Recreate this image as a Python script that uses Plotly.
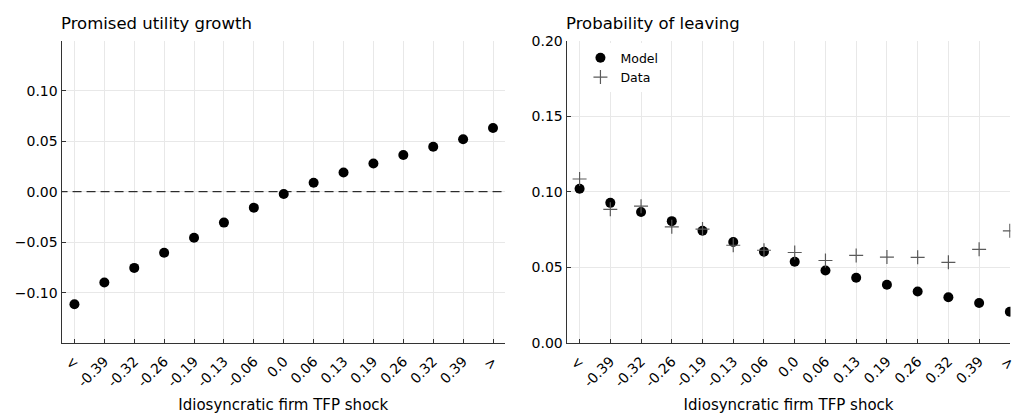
import plotly.graph_objects as go

categories = ["<", "-0.39", "-0.32", "-0.26", "-0.19", "-0.13", "-0.06", "0.0",
              "0.06", "0.13", "0.19", "0.26", "0.32", "0.39", ">"]
utility_growth = [-0.1115, -0.0899, -0.0755, -0.0605, -0.0456, -0.0306, -0.0158, -0.0022,
                  0.0089, 0.0191, 0.0280, 0.0363, 0.0446, 0.0519, 0.0631]
leave_model = [0.1020, 0.0926, 0.0866, 0.0805, 0.0741, 0.0667, 0.0602, 0.0536,
               0.0478, 0.0430, 0.0383, 0.0339, 0.0301, 0.0262, 0.0205]
leave_data = [0.1084, 0.0883, 0.0904, 0.0767, 0.0752, 0.0645, 0.0612, 0.0597,
              0.0544, 0.0578, 0.0567, 0.0565, 0.0532, 0.0618, 0.0741]
left_yticks = [-0.10, -0.05, 0.00, 0.05, 0.10]
right_yticks = [0.00, 0.05, 0.10, 0.15, 0.20]

xpos = list(range(len(categories)))
FONT = "DejaVu Sans"

fig = go.Figure()
fig.add_trace(go.Scatter(x=xpos, y=utility_growth, mode="markers", showlegend=False,
                         marker=dict(color="black", size=10, symbol="circle"),
                         xaxis="x", yaxis="y"))
fig.add_trace(go.Scatter(x=[xpos[0] - 1, xpos[-1] + 1], y=[0, 0], mode="lines", showlegend=False,
                         line=dict(color="black", width=1, dash="9px,5px"),
                         xaxis="x", yaxis="y"))
fig.add_trace(go.Scatter(x=xpos, y=leave_model, mode="markers", name="Model",
                         marker=dict(color="black", size=10, symbol="circle"),
                         xaxis="x2", yaxis="y2"))
fig.add_trace(go.Scatter(x=xpos, y=leave_data, mode="markers", name="Data",
                         marker=dict(color="#5a5a5a", size=10, symbol="cross-thin",
                                     line=dict(color="#5a5a5a", width=1.2)),
                         xaxis="x2", yaxis="y2"))

axis_common = dict(showline=True, linecolor="#333333", linewidth=1.2, mirror=False,
                   ticks="inside", ticklen=4, tickcolor="#333333",
                   showgrid=True, gridcolor="#e8e8e8", gridwidth=1, zeroline=False,
                   ticklabeloverflow="allow",
                   tickfont=dict(family=FONT, size=14, color="black"))
xaxis_extra = dict(tickvals=xpos, ticktext=categories, tickangle=-45, ticklabelstandoff=4,
                   title=dict(text="Idiosyncratic firm TFP shock", font=dict(family=FONT, size=15), standoff=10))

fig.update_layout(
    width=1019, height=416,
    margin=dict(l=0, r=0, t=0, b=0),
    paper_bgcolor="white", plot_bgcolor="white",
    font=dict(family=FONT, color="black"),
    xaxis=dict(domain=[0.0608, 0.4985], range=[-0.43, 14.4], anchor="y", **xaxis_extra, **axis_common),
    yaxis=dict(domain=[0.1635, 0.918], range=[-0.1495, 0.1495], tickvals=left_yticks,
               tickformat=".2f", anchor="x", **axis_common),
    xaxis2=dict(domain=[0.5594, 0.9975], range=[-0.42, 14.02], anchor="y2", **xaxis_extra, **axis_common),
    yaxis2=dict(domain=[0.1635, 0.918], range=[0, 0.2], tickvals=right_yticks,
                tickformat=".2f", anchor="x2", **axis_common),
    legend=dict(x=0.573, y=0.912, xanchor="left", yanchor="top",
                bgcolor="white", borderwidth=0, font=dict(family=FONT, size=12.5),
                tracegroupgap=0, itemwidth=30),
    annotations=[
        dict(text="Promised utility growth", x=59 / 1019, y=1 - 16 / 416, xref="paper", yref="paper",
             xanchor="left", yanchor="middle", showarrow=False, font=dict(family=FONT, size=16.5)),
        dict(text="Probability of leaving", x=567 / 1019, y=1 - 16 / 416, xref="paper", yref="paper",
             xanchor="left", yanchor="middle", showarrow=False, font=dict(family=FONT, size=16.5)),
    ],
)

fig.write_html("out.html")
